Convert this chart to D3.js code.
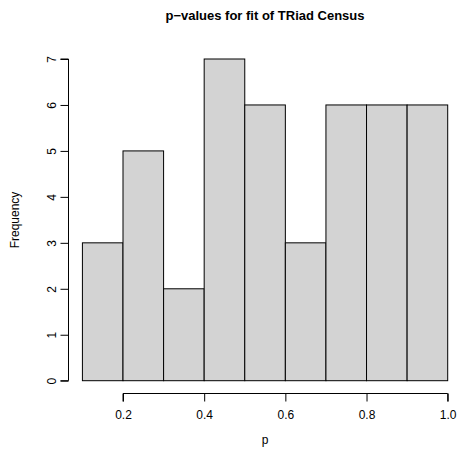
<!DOCTYPE html>
<html><head><meta charset="utf-8">
<script src="https://cdn.jsdelivr.net/npm/d3@7"></script>
<style>body{margin:0;background:#fff}svg{display:block}text{font-family:"Liberation Sans",Arial,sans-serif}</style>
</head><body><svg id="c" width="457" height="455"></svg>
<script>
const binStarts = [0.1,0.2,0.3,0.4,0.5,0.6,0.7,0.8,0.9];
const binWidth = 0.1;
const counts = [3,5,2,7,6,3,6,6,6];
const xTicks = [0.2,0.4,0.6,0.8,1.0];
const yTicks = [0,1,2,3,4,5,6,7];
const title = "p\u2212values for fit of TRiad Census";
const xLabel = "p", yLabel = "Frequency";

const svg = d3.select("#c");
const x = d3.scaleLinear().domain([0.2,1.0]).range([123,447.7]);
const y = d3.scaleLinear().domain([0,7]).range([380.7,59]);

svg.append("g").selectAll("rect").data(binStarts).join("rect")
  .attr("x", d=>x(d)).attr("width", d=>x(d+binWidth)-x(d))
  .attr("y", (d,i)=>y(counts[i])).attr("height",(d,i)=>y(0)-y(counts[i]))
  .attr("fill","#d3d3d3").attr("stroke","#000").attr("stroke-width",1);

const gx = svg.append("g").attr("transform","translate(0,393.5)")
  .call(d3.axisBottom(x).tickValues(xTicks).tickSize(8).tickPadding(9).tickFormat(d3.format(".1f")));
gx.select(".domain").attr("d", `M${x(0.2)},8V0H${x(1.0)}V8`);
gx.selectAll("text").attr("font-size",12).attr("font-family","Liberation Sans, Arial, sans-serif");

const gy = svg.append("g").attr("transform","translate(68.5,0)")
  .call(d3.axisLeft(y).tickValues(yTicks).tickSize(8).tickPadding(0).tickFormat(d3.format("d")));
gy.select(".domain").attr("d", `M-8,${y(0)}H0V${y(7)}H-8`);
gy.selectAll(".tick text").attr("font-size",12).attr("font-family","Liberation Sans, Arial, sans-serif")
  .attr("text-anchor","middle").attr("dy",null).attr("x",null)
  .attr("transform","translate(-17,0) rotate(-90)").attr("dy","0.35em");

svg.append("text").attr("x",265).attr("y",20).attr("text-anchor","middle")
  .attr("font-weight","bold").attr("font-size",13).text(title);
svg.append("text").attr("x",265).attr("y",444).attr("text-anchor","middle")
  .attr("font-size",12).text(xLabel);
svg.append("text").attr("transform","translate(19,220) rotate(-90)").attr("text-anchor","middle")
  .attr("font-size",12).text(yLabel);
</script></body></html>
